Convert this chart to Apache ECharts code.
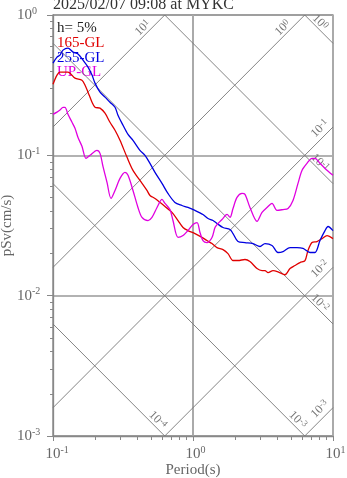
<!DOCTYPE html>
<html>
<head>
<meta charset="utf-8">
<script src="https://cdn.jsdelivr.net/npm/echarts@6/dist/echarts.min.js"></script>
<style>
html, body { margin: 0; padding: 0; background: #fff; }
#chart { width: 347px; height: 478px; }
</style>
</head>
<body>
<div id="chart"></div>
<script>
// periods (s) and pseudo velocity response (cm/s), h = 5%
var t165 = [0.1, 0.1068, 0.1122, 0.1279, 0.1436, 0.161, 0.1694, 0.1778, 0.19, 0.1995, 0.2167, 0.2352, 0.2553, 0.2773, 0.301, 0.338, 0.3727, 0.4178, 0.469, 0.4929, 0.5353, 0.5808, 0.631, 0.7079, 0.7816, 0.849, 0.9204, 1.033, 1.159, 1.259, 1.367, 1.484, 1.638, 1.778, 1.931, 2.096, 2.352, 2.552, 2.866, 3.112, 3.268, 3.435, 3.728, 4.047, 4.541, 4.932, 5.353, 5.809, 6.31, 6.628, 7.079, 7.683, 8.343, 9.061, 10];
var sv165 = [0.321, 0.373, 0.392, 0.392, 0.355, 0.343, 0.316, 0.282, 0.239, 0.22, 0.217, 0.1995, 0.172, 0.151, 0.128, 0.0968, 0.0781, 0.0663, 0.0562, 0.0518, 0.0493, 0.0462, 0.0432, 0.0392, 0.0343, 0.0306, 0.0291, 0.0277, 0.026, 0.0247, 0.0235, 0.022, 0.0213, 0.01995, 0.0178, 0.0178, 0.0181, 0.0175, 0.0156, 0.0151, 0.0151, 0.0146, 0.0151, 0.0148, 0.0141, 0.0156, 0.0164, 0.0172, 0.0178, 0.021, 0.0239, 0.0243, 0.0255, 0.0268, 0.0255];

var t255 = [0.1, 0.1068, 0.1122, 0.1179, 0.1279, 0.139, 0.1509, 0.1638, 0.1778, 0.19, 0.1995, 0.2167, 0.2352, 0.2553, 0.2773, 0.2911, 0.3162, 0.3435, 0.3727, 0.4178, 0.4539, 0.4929, 0.5353, 0.6006, 0.6622, 0.7431, 0.8337, 0.9204, 1.033, 1.178, 1.28, 1.39, 1.484, 1.638, 1.838, 1.931, 2.096, 2.352, 2.683, 3.01, 3.268, 3.667, 4.047, 4.394, 4.932, 5.532, 6.105, 6.851, 7.433, 8.072, 8.767, 9.212, 10];
var sv255 = [0.454, 0.501, 0.518, 0.562, 0.581, 0.544, 0.527, 0.477, 0.425, 0.373, 0.327, 0.282, 0.26, 0.239, 0.22, 0.193, 0.164, 0.141, 0.128, 0.1086, 0.1, 0.0877, 0.0756, 0.0631, 0.0535, 0.0462, 0.0439, 0.0425, 0.0405, 0.0379, 0.0355, 0.0343, 0.0327, 0.0306, 0.0296, 0.0277, 0.0243, 0.0239, 0.0235, 0.0224, 0.0235, 0.0228, 0.0203, 0.0206, 0.022, 0.022, 0.0217, 0.0203, 0.0203, 0.0247, 0.0291, 0.0311, 0.0291];

var tUP = [0.1, 0.1068, 0.1122, 0.1179, 0.1218, 0.1279, 0.1367, 0.1436, 0.1509, 0.161, 0.172, 0.1837, 0.206, 0.2167, 0.2275, 0.2431, 0.2596, 0.2773, 0.301, 0.3268, 0.3435, 0.3727, 0.4045, 0.4321, 0.4772, 0.5093, 0.5533, 0.6006, 0.631, 0.6849, 0.7194, 0.7816, 0.849, 0.9204, 1.0, 1.069, 1.122, 1.178, 1.259, 1.367, 1.436, 1.509, 1.611, 1.75, 1.838, 1.931, 2.062, 2.239, 2.352, 2.552, 2.866, 3.112, 3.378, 3.667, 3.981, 4.394, 4.772, 5.179, 5.623, 6.003, 6.52, 7.079, 7.433, 8.072, 8.767, 10];
var svUP = [0.196, 0.203, 0.21, 0.22, 0.22, 0.196, 0.172, 0.156, 0.134, 0.116, 0.0952, 0.1, 0.1086, 0.1033, 0.0834, 0.0641, 0.0493, 0.0562, 0.0685, 0.0756, 0.072, 0.0562, 0.0425, 0.0361, 0.0343, 0.0361, 0.0425, 0.0485, 0.0454, 0.0411, 0.0343, 0.026, 0.0268, 0.0291, 0.0321, 0.0332, 0.0282, 0.0247, 0.0239, 0.026, 0.0306, 0.0327, 0.0349, 0.0379, 0.0361, 0.0418, 0.0501, 0.0535, 0.0527, 0.0425, 0.0338, 0.0392, 0.0425, 0.0454, 0.0405, 0.0411, 0.0418, 0.0477, 0.0631, 0.0781, 0.0877, 0.0952, 0.0952, 0.0877, 0.0807, 0.072];

// tripartite guide levels
var dispLevels = [1e-4, 1e-3, 1e-2, 1e-1, 1];   // displacement (cm)
var accLevels = [1e-3, 1e-2, 1e-1, 1, 10];      // acceleration (cm/s2)

var tRange = [0.1, 10];
var svRange = [0.001, 1];
var minorX = [0.2, 0.3, 0.4, 0.5, 0.6, 0.7, 0.8, 0.9, 2, 3, 4, 5, 6, 7, 8, 9];
var minorY = [0.002, 0.003, 0.004, 0.005, 0.006, 0.007, 0.008, 0.009, 0.02, 0.03, 0.04, 0.05, 0.06, 0.07, 0.08, 0.09, 0.2, 0.3, 0.4, 0.5, 0.6, 0.7, 0.8, 0.9];

var FONT = 'Liberation Serif';
var GRAY = '#666';

function pairs(xs, ys) {
    return xs.map(function (x, i) { return [x, ys[i]]; });
}
function expOf(v) {
    return Math.round(Math.log(v) / Math.LN10);
}

var chart = echarts.init(document.getElementById('chart'));

var series = [];
var guideLabels = [];
var guideStyle = { color: '#777', width: 0.9 };

dispLevels.forEach(function (d) {
    var c = 2 * Math.PI * d;
    var t0 = Math.max(tRange[0], c / svRange[1]);
    var t1 = Math.min(tRange[1], c / svRange[0]);
    series.push({
        type: 'line', silent: true, symbol: 'none', z: 1,
        lineStyle: guideStyle,
        data: [[t0, c / t0], [t1, c / t1]]
    });
    var right = t1 >= tRange[1];
    guideLabels.push({ t: t1, sv: c / t1, exp: expOf(d), rot: -Math.PI / 4, dx: right ? -13 : -7, dy: right ? -21 : -16 });
});
accLevels.forEach(function (a) {
    var k = 2 * Math.PI / a;
    var t0 = Math.max(tRange[0], svRange[0] * k);
    var t1 = Math.min(tRange[1], svRange[1] * k);
    series.push({
        type: 'line', silent: true, symbol: 'none', z: 1,
        lineStyle: guideStyle,
        data: [[t0, t0 / k], [t1, t1 / k]]
    });
    var right = t1 >= tRange[1];
    guideLabels.push({ t: t1, sv: t1 / k, exp: expOf(a), rot: Math.PI / 4, dx: right ? -13 : -22, dy: right ? 1.5 : 13 });
});

series.push({
    type: 'custom', silent: true, z: 2,
    data: guideLabels.map(function (g, i) { return [g.t, g.sv, i]; }),
    renderItem: function (params, api) {
        var g = guideLabels[api.value(2)];
        var p = api.coord([api.value(0), api.value(1)]);
        return {
            type: 'text',
            x: p[0] + g.dx,
            y: p[1] + g.dy,
            rotation: g.rot,
            style: {
                text: '{b|10}{s|' + g.exp + '}',
                align: 'center',
                verticalAlign: 'middle',
                rich: {
                    b: { fontFamily: FONT, fontSize: 12, fill: '#777', lineHeight: 13 },
                    s: { fontFamily: FONT, fontSize: 9, fill: '#777', lineHeight: 13, verticalAlign: 'top' }
                }
            }
        };
    }
});

var curves = [
    { name: '165-GL', color: '#e00000', t: t165, sv: sv165 },
    { name: '255-GL', color: '#0000e0', t: t255, sv: sv255 },
    { name: 'UP-GL', color: '#e000e0', t: tUP, sv: svUP }
];
curves.forEach(function (c) {
    series.push({
        name: c.name, type: 'line', symbol: 'none', z: 5, smooth: 0.3,
        lineStyle: { color: c.color, width: 1.3 },
        data: pairs(c.t, c.sv)
    });
});

var labelRich = {
    h: { fontFamily: FONT, fontSize: 10, color: 'rgba(0,0,0,0)' },
    b: { fontFamily: FONT, fontSize: 15, color: GRAY, lineHeight: 18 },
    s: { fontFamily: FONT, fontSize: 10, color: GRAY, lineHeight: 18, verticalAlign: 'top' }
};

var option = {
    animation: false,
    backgroundColor: '#fff',
    grid: {
        left: 53, right: 14, top: 15, bottom: 42,
        show: true, borderColor: '#999', borderWidth: 1.3,
        outerBoundsMode: 'none'
    },
    xAxis: [
        {
            type: 'log', logBase: 10, min: tRange[0], max: tRange[1], position: 'bottom',
            name: 'Period(s)', nameLocation: 'middle', nameGap: 27, nameMoveOverlap: false,
            nameTextStyle: { fontFamily: FONT, fontSize: 15, color: GRAY },
            axisLine: { show: true, lineStyle: { color: '#888', width: 1.3 } },
            axisTick: { show: true, length: 5, lineStyle: { color: '#888' } },
            axisLabel: {
                margin: 9,
                formatter: function (v) { var e = expOf(v); return '{h|' + e + '}{b|10}{s|' + e + '}'; },
                rich: labelRich
            },
            splitLine: { show: true, lineStyle: { color: '#aaa', width: 2 } },
            minorTick: { show: false }, minorSplitLine: { show: false }
        },
        {
            type: 'log', logBase: 10, min: tRange[0], max: tRange[1], position: 'bottom', offset: 0,
            axisLine: { show: false },
            axisTick: { show: true, length: 4, customValues: minorX, lineStyle: { color: '#888' } },
            axisLabel: { show: false },
            splitLine: { show: false }
        }
    ],
    yAxis: [
        {
            type: 'log', logBase: 10, min: svRange[0], max: svRange[1], position: 'left',
            name: 'pSv(cm/s)', nameLocation: 'middle', nameGap: 38, nameMoveOverlap: false,
            nameTextStyle: { fontFamily: FONT, fontSize: 15, color: GRAY },
            axisLine: { show: true, lineStyle: { color: '#888', width: 1.3 } },
            axisTick: { show: true, length: 6, lineStyle: { color: '#888' } },
            axisLabel: {
                margin: 36, align: 'left',
                formatter: function (v) { return '{b|10}{s|' + expOf(v) + '}'; },
                rich: labelRich
            },
            splitLine: { show: true, lineStyle: { color: '#999', width: 1.5 } },
            minorTick: { show: false }, minorSplitLine: { show: false }
        },
        {
            type: 'log', logBase: 10, min: svRange[0], max: svRange[1], position: 'left', offset: 0,
            axisLine: { show: false },
            axisTick: { show: true, length: 3, customValues: minorY, lineStyle: { color: '#888' } },
            axisLabel: { show: false },
            splitLine: { show: false }
        }
    ],
    graphic: [
        { type: 'text', x: 53, y: 13, style: { text: '2025/02/07 09:08 at MYKC', font: '16px "Liberation Serif"', fill: '#333', verticalAlign: 'bottom' } },
        { type: 'text', x: 57, y: 21, style: { text: 'h= 5%', font: '15px "Liberation Serif"', fill: '#222' } },
        { type: 'text', x: 57, y: 36, style: { text: '165-GL', font: '15px "Liberation Serif"', fill: '#e00000' } },
        { type: 'text', x: 57, y: 51, style: { text: '255-GL', font: '15px "Liberation Serif"', fill: '#0000e0' } },
        { type: 'text', x: 57, y: 65, style: { text: 'UP-GL', font: '15px "Liberation Serif"', fill: '#e000e0' } }
    ],
    series: series
};

chart.setOption(option);
</script>
</body>
</html>
